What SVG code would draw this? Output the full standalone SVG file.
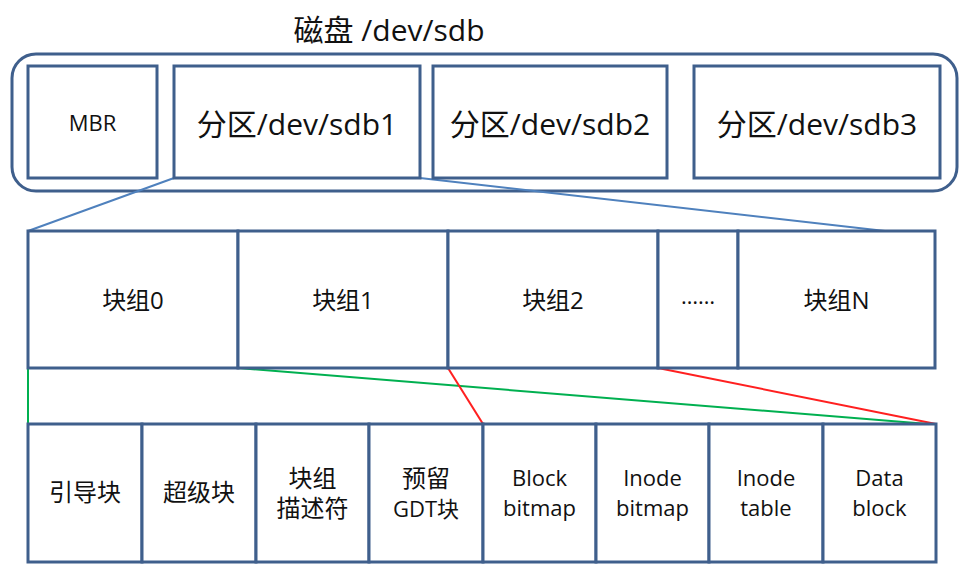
<svg xmlns="http://www.w3.org/2000/svg" width="970" height="580" viewBox="0 0 970 580">
<style>
.box{fill:#fff;stroke:#3f5f8c;stroke-width:3}
.t{font-family:"Open Sans","Noto Sans CJK SC",sans-serif;fill:#111;text-anchor:middle}
.big{font-size:30px}
.mid{font-size:22px}
.cjk{font-size:24px}
.sm{font-size:22px}
.blue{stroke:#4f81bd;stroke-width:2;fill:none}
.green{stroke:#00b050;stroke-width:2;fill:none}
.red{stroke:#ff2020;stroke-width:2;fill:none}
</style>
<rect width="970" height="580" fill="#fff"/>
<g id="disk">
<rect x="12" y="54" width="945" height="137" rx="24" ry="24" fill="none" stroke="#3f5f8c" stroke-width="3"/>
<text class="t big" x="389" y="41">磁盘 /dev/sdb</text>
</g>
<g id="connectors">
<line class="blue" x1="174" y1="178" x2="28" y2="231"/>
<line class="blue" x1="420" y1="178" x2="885" y2="231"/>
<line class="green" x1="28" y1="368" x2="28" y2="424"/>
<line class="green" x1="238" y1="368" x2="928" y2="424"/>
<line class="red" x1="448" y1="368" x2="483" y2="424"/>
<line class="red" x1="658" y1="368" x2="936" y2="424"/>
</g>
<g id="mbr"><rect class="box" x="28" y="66" width="129" height="112"/><text class="t sm" x="92.5" y="131">MBR</text></g>
<g id="sdb1"><rect class="box" x="174" y="66" width="246" height="112"/><text class="t big" x="297" y="135">分区/dev/sdb1</text></g>
<g id="sdb2"><rect class="box" x="433" y="66" width="234" height="112"/><text class="t big" x="550" y="135">分区/dev/sdb2</text></g>
<g id="sdb3"><rect class="box" x="694" y="66" width="246" height="112"/><text class="t big" x="817" y="135">分区/dev/sdb3</text></g>
<g id="bg0"><rect class="box" x="28" y="231" width="210" height="137"/><text class="t cjk" x="133" y="309">块组0</text></g>
<g id="bg1"><rect class="box" x="238" y="231" width="210" height="137"/><text class="t cjk" x="343" y="309">块组1</text></g>
<g id="bg2"><rect class="box" x="448" y="231" width="210" height="137"/><text class="t cjk" x="553" y="309">块组2</text></g>
<g id="bgdots"><rect class="box" x="658" y="231" width="80" height="137"/><text class="t mid" x="698" y="304">……</text></g>
<g id="bgN"><rect class="box" x="738" y="231" width="197" height="137"/><text class="t cjk" x="836.5" y="309">块组N</text></g>
<g id="boot"><rect class="box" x="28" y="424" width="114" height="138"/><text class="t cjk" x="85" y="501">引导块</text></g>
<g id="super"><rect class="box" x="142" y="424" width="114" height="138"/><text class="t cjk" x="199" y="501">超级块</text></g>
<g id="gdt"><rect class="box" x="256" y="424" width="113" height="138"/><text class="t cjk" x="312.5" y="487">块组</text><text class="t cjk" x="312.5" y="517">描述符</text></g>
<g id="rgdt"><rect class="box" x="369" y="424" width="114" height="138"/><text class="t cjk" x="426" y="487">预留</text><text class="t mid" x="426" y="517">GDT块</text></g>
<g id="bbitmap"><rect class="box" x="483" y="424" width="113" height="138"/><text class="t mid" x="539.5" y="486">Block</text><text class="t mid" x="539.5" y="516">bitmap</text></g>
<g id="ibitmap"><rect class="box" x="596" y="424" width="113" height="138"/><text class="t mid" x="652.5" y="486">Inode</text><text class="t mid" x="652.5" y="516">bitmap</text></g>
<g id="itable"><rect class="box" x="709" y="424" width="114" height="138"/><text class="t mid" x="766" y="486">Inode</text><text class="t mid" x="766" y="516">table</text></g>
<g id="data"><rect class="box" x="823" y="424" width="113" height="138"/><text class="t mid" x="879.5" y="486">Data</text><text class="t mid" x="879.5" y="516">block</text></g>
</svg>
